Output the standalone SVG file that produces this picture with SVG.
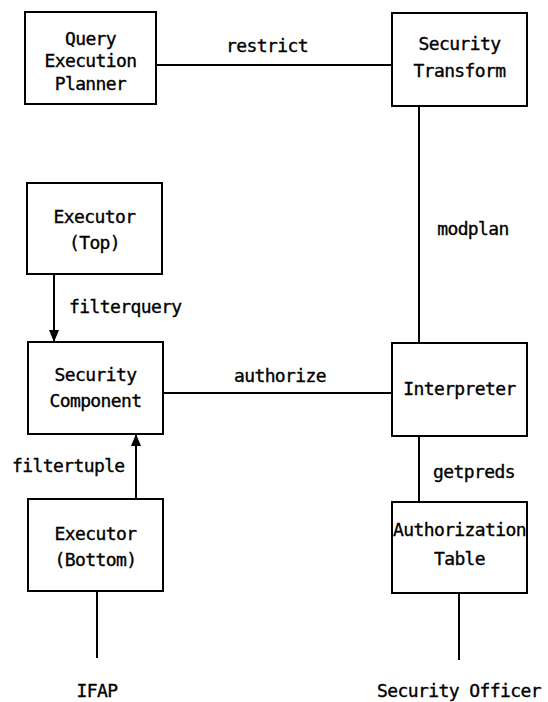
<svg xmlns="http://www.w3.org/2000/svg" width="548" height="702" viewBox="0 0 548 702">
<defs>
<style>
.box{fill:#fff;stroke:#000;stroke-width:2}
.ln{fill:none;stroke:#000;stroke-width:2}
text{font-family:"DejaVu Sans Mono","Liberation Mono",monospace;font-size:18px;letter-spacing:-0.6px;fill:#000;stroke:#000;stroke-width:0.35px}
.c{text-anchor:middle}
</style>
<marker id="ah" markerUnits="userSpaceOnUse" markerWidth="12" markerHeight="10" viewBox="0 0 12 10" refX="12" refY="5" orient="auto">
<path d="M0,0 L12,5 L0,10 Z" fill="#000"/>
</marker>
</defs>
<rect width="548" height="702" fill="#fff"/>
<g id="connectors">
<line class="ln" x1="156" y1="65" x2="392" y2="65"/>
<text class="c" x="267" y="52">restrict</text>
<line class="ln" x1="419" y1="106" x2="419" y2="343"/>
<text class="c" x="473" y="235">modplan</text>
<line class="ln" x1="54" y1="274" x2="54" y2="342" marker-end="url(#ah)"/>
<text x="69" y="313">filterquery</text>
<line class="ln" x1="163" y1="393" x2="392" y2="393"/>
<text class="c" x="280" y="382">authorize</text>
<line class="ln" x1="419" y1="436" x2="419" y2="502"/>
<text x="433" y="478">getpreds</text>
<line class="ln" x1="136" y1="499" x2="136" y2="434" marker-end="url(#ah)"/>
<text x="12" y="472">filtertuple</text>
<line class="ln" x1="97" y1="591" x2="97" y2="658"/>
<text class="c" x="97" y="697">IFAP</text>
<line class="ln" x1="459" y1="593" x2="459" y2="660"/>
<text class="c" x="459" y="697">Security Officer</text>
</g>
<g id="qep">
<rect class="box" x="25" y="12" width="131" height="92"/>
<text class="c" x="90.5" y="45">Query</text>
<text class="c" x="90.5" y="67">Execution</text>
<text class="c" x="90.5" y="90">Planner</text>
</g>
<g id="security-transform">
<rect class="box" x="392" y="13" width="135" height="93"/>
<text class="c" x="459.5" y="50">Security</text>
<text class="c" x="459.5" y="77">Transform</text>
</g>
<g id="executor-top">
<rect class="box" x="27" y="183" width="135" height="91"/>
<text class="c" x="94.5" y="223">Executor</text>
<text class="c" x="94.5" y="249">(Top)</text>
</g>
<g id="security-component">
<rect class="box" x="28" y="342" width="135" height="92"/>
<text class="c" x="95.5" y="381">Security</text>
<text class="c" x="95.5" y="407">Component</text>
</g>
<g id="interpreter">
<rect class="box" x="392" y="343" width="135" height="93"/>
<text class="c" x="459.5" y="395">Interpreter</text>
</g>
<g id="authorization-table">
<rect class="box" x="392" y="502" width="135" height="91"/>
<text class="c" x="459.5" y="536">Authorization</text>
<text class="c" x="459.5" y="565">Table</text>
</g>
<g id="executor-bottom">
<rect class="box" x="28" y="499" width="135" height="92"/>
<text class="c" x="95.5" y="540">Executor</text>
<text class="c" x="95.5" y="566">(Bottom)</text>
</g>
</svg>
